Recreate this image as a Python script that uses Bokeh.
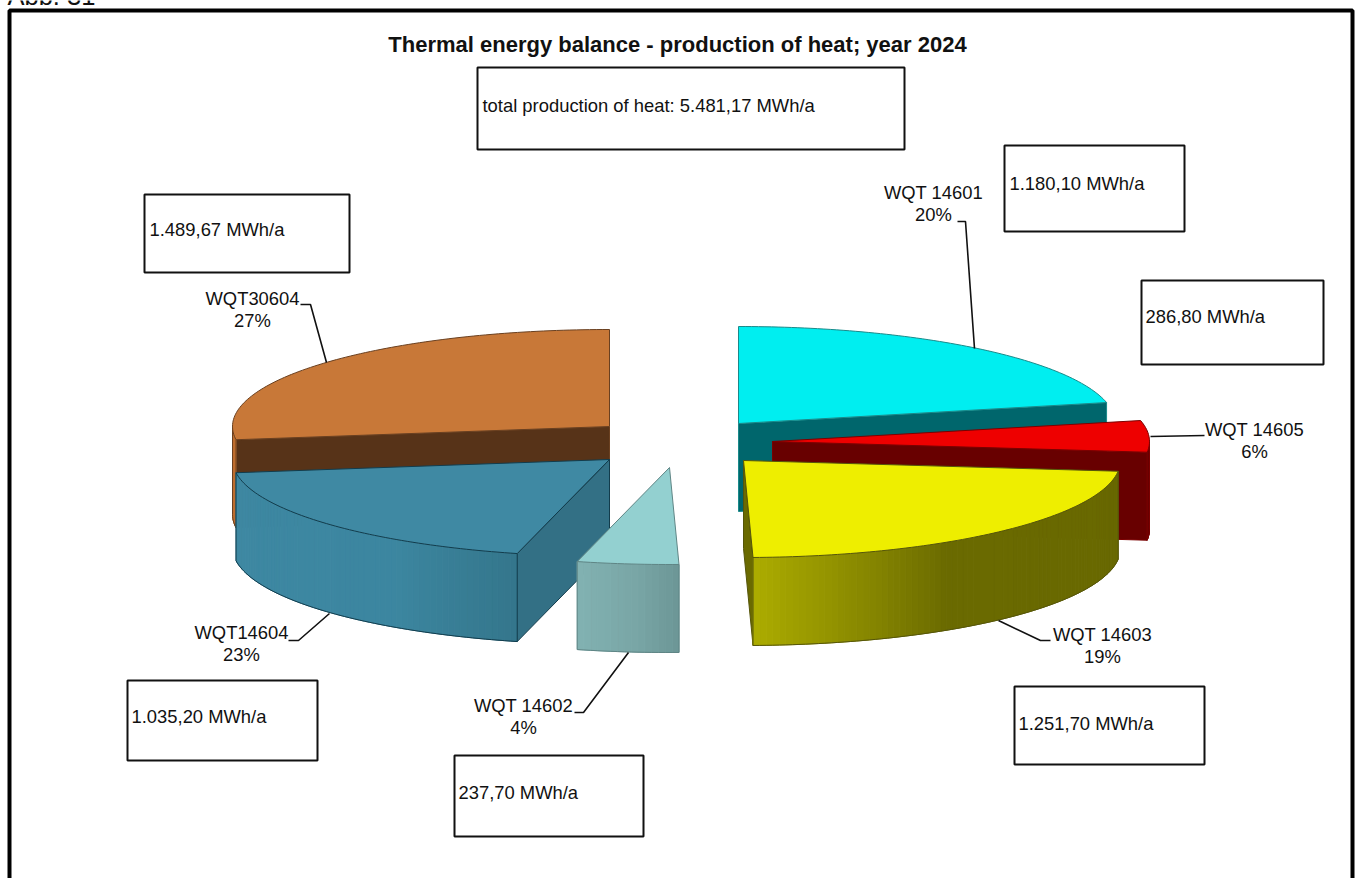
import math
from bokeh.plotting import figure
from bokeh.models import ColumnDataSource
from bokeh.core.properties import value
from bokeh.embed import file_html
from bokeh.resources import INLINE

# ---- data ----
series_names = ["WQT 14601", "WQT 14605", "WQT 14603", "WQT 14602", "WQT14604", "WQT30604"]
series_values = [1180.10, 286.80, 1251.70, 237.70, 1035.20, 1489.67]
percent_labels = ["20%", "6%", "19%", "4%", "23%", "27%"]
value_labels = ["1.180,10 MWh/a", "286,80 MWh/a", "1.251,70 MWh/a",
                "237,70 MWh/a", "1.035,20 MWh/a", "1.489,67 MWh/a"]
total_label = "total production of heat: 5.481,17 MWh/a"
title_text = "Thermal energy balance - production of heat; year 2024"
corner_text = "Abb. 31"

# ---- layout and style ----
W, H = 1357, 878
RX, RY, DEPTH = 377.0, 97.0, 88.0
FONT = value("Liberation Sans")
apex = [(738, 423), (772, 441), (743, 460), (669, 467), (609, 459), (609, 426)]
top_colors = ["#00eef0", "#ee0000", "#eeee00", "#93d0d0", "#3f89a3", "#c87838"]
edge_colors = ["#1a8a8a", "#7a0000", "#55550a", "#5f8585", "#123c4c", "#6a4020"]
wall_colors = ["#00666c", "#680000", "#6a6a00", None, "#337085", "#573318"]
wall_edge = ["end", "end", "end", None, "start", "start"]
# side shading stops, as (share of the visible arc from left to right, colour)
side_stops = [
    [(0, (0, 102, 108)), (1, (0, 102, 108))],
    [(0, (104, 0, 0)), (1, (104, 0, 0))],
    [(0, (172, 172, 0)), (0.38, (106, 106, 0)), (1, (104, 104, 0))],
    [(0, (130, 178, 178)), (0.6, (120, 165, 165)), (1, (108, 150, 150))],
    [(0, (62, 136, 162)), (0.7, (60, 134, 160)), (1, (52, 118, 140))],
    [(0, (190, 110, 48)), (1, (190, 110, 48))],
]
draw_order = [5, 4, 3, 0, 1, 2]

boxes = [(1004, 1184, 145, 231), (1141, 1323, 280, 364), (1014, 1204, 686, 764),
         (454, 643, 755, 836), (127, 317, 680, 760), (144, 349, 194, 272)]
total_box = (477, 904, 67, 149)
box_text_xy = [(1009, 183), (1145, 316), (1018, 723), (458, 792), (131, 716), (149, 229)]
total_text_xy = (482, 105)
label_xy = [(933, 192), (1254, 429), (1102, 634), (523, 705), (241, 632), (252, 298)]
LINE_GAP = 21.5
leaders = [
    [(957, 221), (965, 221), (974, 348)],
    [(1204, 435), (1150, 436)],
    [(1050, 640), (1040, 640), (998, 620)],
    [(574, 712), (583, 712), (628, 652)],
    [(288, 640), (298, 640), (329, 613)],
    [(300, 304), (310, 304), (326, 362)],
]

p = figure(width=W, height=H, x_range=(0, W), y_range=(H, 0), output_backend="svg",
           toolbar_location=None, min_border=0, outline_line_color=None,
           background_fill_color="white", border_fill_color="white")
p.axis.visible = False
p.grid.visible = False


def pt(c, theta, drop=0.0):
    a = math.radians(theta)
    return c[0] + RX * math.sin(a), c[1] - RY * math.cos(a) + drop


def shade(stops, t):
    for (t0, c0), (t1, c1) in zip(stops, stops[1:]):
        if t <= t1:
            f = (t - t0) / (t1 - t0)
            return "#%02x%02x%02x" % tuple(round(a + (b - a) * f) for a, b in zip(c0, c1))
    return "#%02x%02x%02x" % stops[-1][1]


total = sum(series_values)
spans = []
start = 0.0
for v in series_values:
    spans.append((start, start + 360.0 * v / total))
    start = spans[-1][1]

for i in draw_order:
    a0, a1 = spans[i]
    c = apex[i]
    # cut face
    if wall_edge[i]:
        e = pt(c, a1 if wall_edge[i] == "end" else a0)
        p.patch([c[0], e[0], e[0], c[0]], [c[1], e[1], e[1] + DEPTH, c[1] + DEPTH],
                fill_color=wall_colors[i], line_color=edge_colors[i], line_width=1)
    # outer wall, front half only
    v0, v1 = max(a0, 90.0), min(a1, 270.0)
    if v1 > v0:
        n = max(2, int((v1 - v0) / 1.0))
        xs, ys, cols = [], [], []
        for k in range(n):
            t0 = v0 + (v1 - v0) * k / n
            t1 = v0 + (v1 - v0) * (k + 1) / n
            p0, p1 = pt(c, t0), pt(c, t1)
            xs.append([p0[0], p1[0], p1[0], p0[0]])
            ys.append([p0[1], p1[1], p1[1] + DEPTH, p0[1] + DEPTH])
            # t=0 at the left end of the arc
            cols.append(shade(side_stops[i], 1 - (k + 0.5) / n))
        p.patches(xs, ys, fill_color=cols, line_color=cols, line_width=1)
        low = [pt(c, v0 + (v1 - v0) * k / n, DEPTH) for k in range(n + 1)]
        p.line([q[0] for q in low], [q[1] for q in low], line_color=edge_colors[i], line_width=1)
        p.line([low[0][0]] * 2, [low[0][1], low[0][1] - DEPTH], line_color=edge_colors[i], line_width=1)
        p.line([low[-1][0]] * 2, [low[-1][1], low[-1][1] - DEPTH], line_color=edge_colors[i], line_width=1)
    # top surface
    m = max(2, int(a1 - a0))
    arc = [pt(c, a0 + (a1 - a0) * k / m) for k in range(m + 1)]
    p.patch([c[0]] + [q[0] for q in arc], [c[1]] + [q[1] for q in arc],
            fill_color=top_colors[i], line_color=edge_colors[i], line_width=1)

# leader lines
p.multi_line([[q[0] for q in l] for l in leaders], [[q[1] for q in l] for l in leaders],
             line_color="#111111", line_width=1.6)

# text boxes
all_boxes = boxes + [total_box]
p.quad(left=[b[0] for b in all_boxes], right=[b[1] for b in all_boxes],
       top=[b[2] for b in all_boxes], bottom=[b[3] for b in all_boxes],
       fill_color="white", line_color="#111111", line_width=2)
p.text(x=[q[0] for q in box_text_xy] + [total_text_xy[0]],
       y=[q[1] for q in box_text_xy] + [total_text_xy[1]],
       text=value_labels + [total_label], text_font=FONT, text_font_size="18.4px",
       text_color="#111111", text_align="left", text_baseline="middle")

# slice labels
lab = ColumnDataSource(dict(
    x=[q[0] for q in label_xy] * 2,
    y=[q[1] for q in label_xy] + [q[1] + LINE_GAP for q in label_xy],
    t=series_names + percent_labels))
p.text(x="x", y="y", text="t", source=lab, text_font=FONT, text_font_size="18.4px",
       text_color="#111111", text_align="center", text_baseline="middle")

# title, corner note, frame
p.text(x=[677], y=[44], text=[title_text], text_font=FONT, text_font_size="22px",
       text_font_style="bold", text_color="#111111", text_align="center", text_baseline="middle")
p.text(x=[7], y=[9.5], text=[corner_text], text_font=FONT, text_font_size="25.5px",
       text_color="#111111", text_align="left", text_baseline="bottom")
p.quad(left=[9], right=[1352], top=[10], bottom=[900], fill_color=None,
       line_color="black", line_width=4)

open("out.html", "w").write(file_html(p, INLINE))
